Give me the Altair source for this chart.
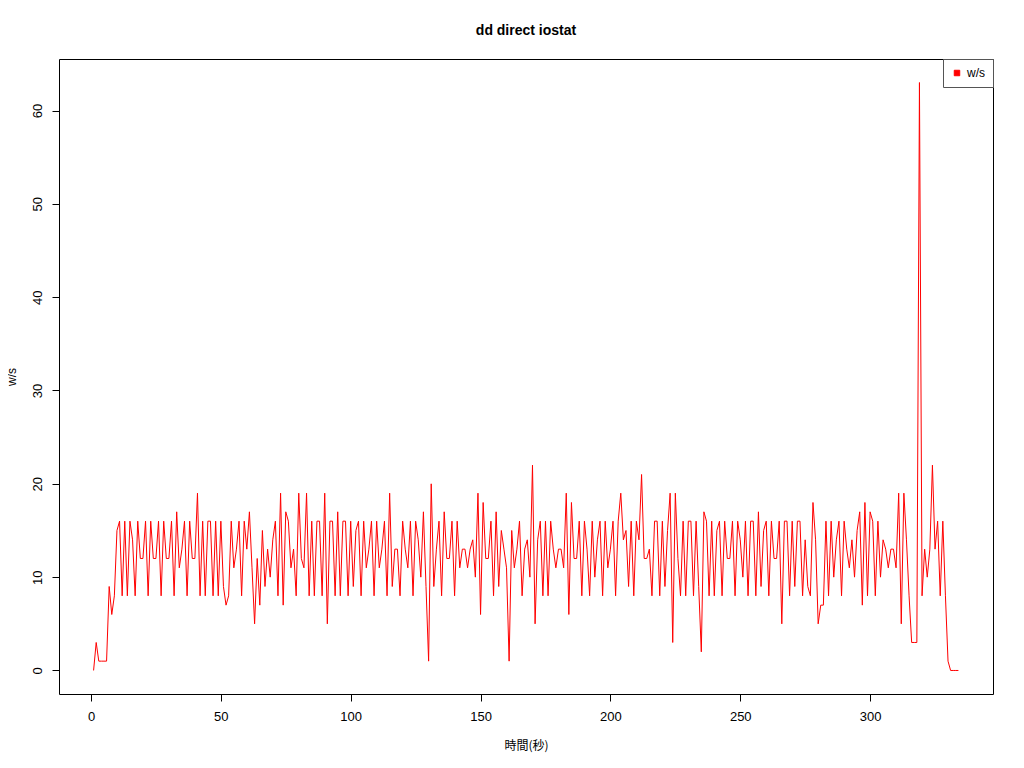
import altair as alt
import pandas as pd

# w/s values per second (x = 1..334)
ws = [
    0, 3, 1, 1, 1, 1, 9, 6, 8, 15,
    16, 8, 16, 8, 16, 14, 8, 16, 12, 12,
    16, 8, 16, 12, 12, 16, 8, 16, 12, 12,
    16, 8, 17, 11, 13, 16, 8, 16, 12, 12,
    19, 8, 16, 8, 16, 16, 8, 16, 8, 16,
    9, 7, 8, 16, 11, 13, 16, 8, 16, 13,
    17, 11, 5, 12, 7, 15, 9, 13, 10, 14,
    16, 8, 19, 7, 17, 16, 11, 13, 8, 19,
    12, 11, 19, 8, 16, 8, 16, 16, 8, 19,
    5, 16, 16, 8, 17, 8, 16, 16, 8, 16,
    9, 15, 16, 8, 16, 11, 13, 16, 8, 16,
    11, 13, 16, 8, 19, 9, 13, 13, 8, 16,
    13, 11, 16, 8, 16, 14, 10, 17, 9, 1,
    20, 9, 13, 16, 8, 17, 12, 12, 16, 8,
    16, 11, 13, 13, 11, 13, 14, 10, 19, 6,
    18, 12, 12, 16, 8, 17, 9, 15, 13, 11,
    1, 15, 11, 13, 16, 8, 13, 14, 10, 22,
    5, 14, 16, 8, 16, 8, 16, 13, 11, 13,
    13, 11, 19, 6, 18, 12, 12, 16, 8, 16,
    13, 8, 16, 10, 14, 16, 8, 16, 11, 13,
    16, 8, 16, 19, 14, 15, 9, 16, 8, 16,
    14, 21, 12, 12, 13, 8, 16, 16, 8, 16,
    9, 15, 19, 3, 19, 12, 8, 16, 8, 16,
    16, 8, 16, 9, 2, 17, 16, 8, 16, 8,
    15, 16, 8, 16, 12, 12, 16, 8, 16, 14,
    10, 16, 8, 16, 16, 8, 17, 9, 15, 16,
    8, 16, 12, 12, 16, 5, 16, 16, 8, 16,
    9, 16, 16, 8, 14, 9, 8, 18, 14, 5,
    7, 7, 16, 8, 16, 10, 14, 16, 8, 16,
    13, 11, 14, 10, 15, 17, 7, 18, 8, 17,
    16, 8, 16, 10, 14, 13, 11, 13, 13, 11,
    19, 5, 19, 14, 8, 3, 3, 3, 63, 8,
    13, 10, 13, 22, 13, 16, 8, 16, 8, 1,
    0, 0, 0, 0,
]
seconds = list(range(1, len(ws) + 1))
x_ticks = [0, 50, 100, 150, 200, 250, 300]
y_ticks = [0, 10, 20, 30, 40, 50, 60]

df = pd.DataFrame({"t": seconds, "v": ws, "s": ["w/s"] * len(ws)})

font = "Liberation Sans"

chart = alt.Chart(df).mark_line(strokeWidth=1, clip=True).encode(
    x=alt.X("t:Q", title="時間(秒)",
            scale=alt.Scale(domain=[-12.32, 347.32], nice=False, zero=False),
            axis=alt.Axis(values=x_ticks, grid=False, domain=False, tickSize=7,
                          tickColor="black", labelColor="black", labelFontSize=13,
                          labelFont=font, labelPadding=9, titleFont="Noto Sans CJK JP",
                          titleFontSize=12, titleFontWeight="normal", titleColor="black",
                          titlePadding=17)),
    y=alt.Y("v:Q", title="w/s",
            scale=alt.Scale(domain=[-2.52, 65.52], nice=False, zero=False),
            axis=alt.Axis(values=y_ticks, grid=False, domain=False, tickSize=7,
                          tickColor="black", labelColor="black", labelFontSize=13,
                          labelFont=font, labelAngle=270, labelAlign="center",
                          labelBaseline="bottom", labelPadding=8,
                          titleFont=font, titleFontSize=12, titleFontWeight="normal",
                          titleColor="black", titlePadding=13)),
    color=alt.Color("s:N", scale=alt.Scale(range=["red"]),
                    legend=alt.Legend(title=None, orient="top-right", offset=0,
                                      strokeColor="#555555", fillColor="white",
                                      padding=8, symbolType="square", symbolSize=30,
                                      symbolFillColor="red", symbolStrokeColor="red",
                                      symbolStrokeWidth=1,
                                      labelFont=font, labelFontSize=12,
                                      labelColor="black")),
).properties(
    width=934, height=635,
    autosize="none",
    background="white",
    padding={"left": 51, "top": 51, "right": 23, "bottom": 66},
    title=alt.TitleParams("dd direct iostat", font=font, fontSize=14,
                          fontWeight="bold", color="black", offset=21),
).configure_view(stroke="black", strokeWidth=1)

chart.save("out.html", embed_options={"renderer": "svg", "actions": False})
